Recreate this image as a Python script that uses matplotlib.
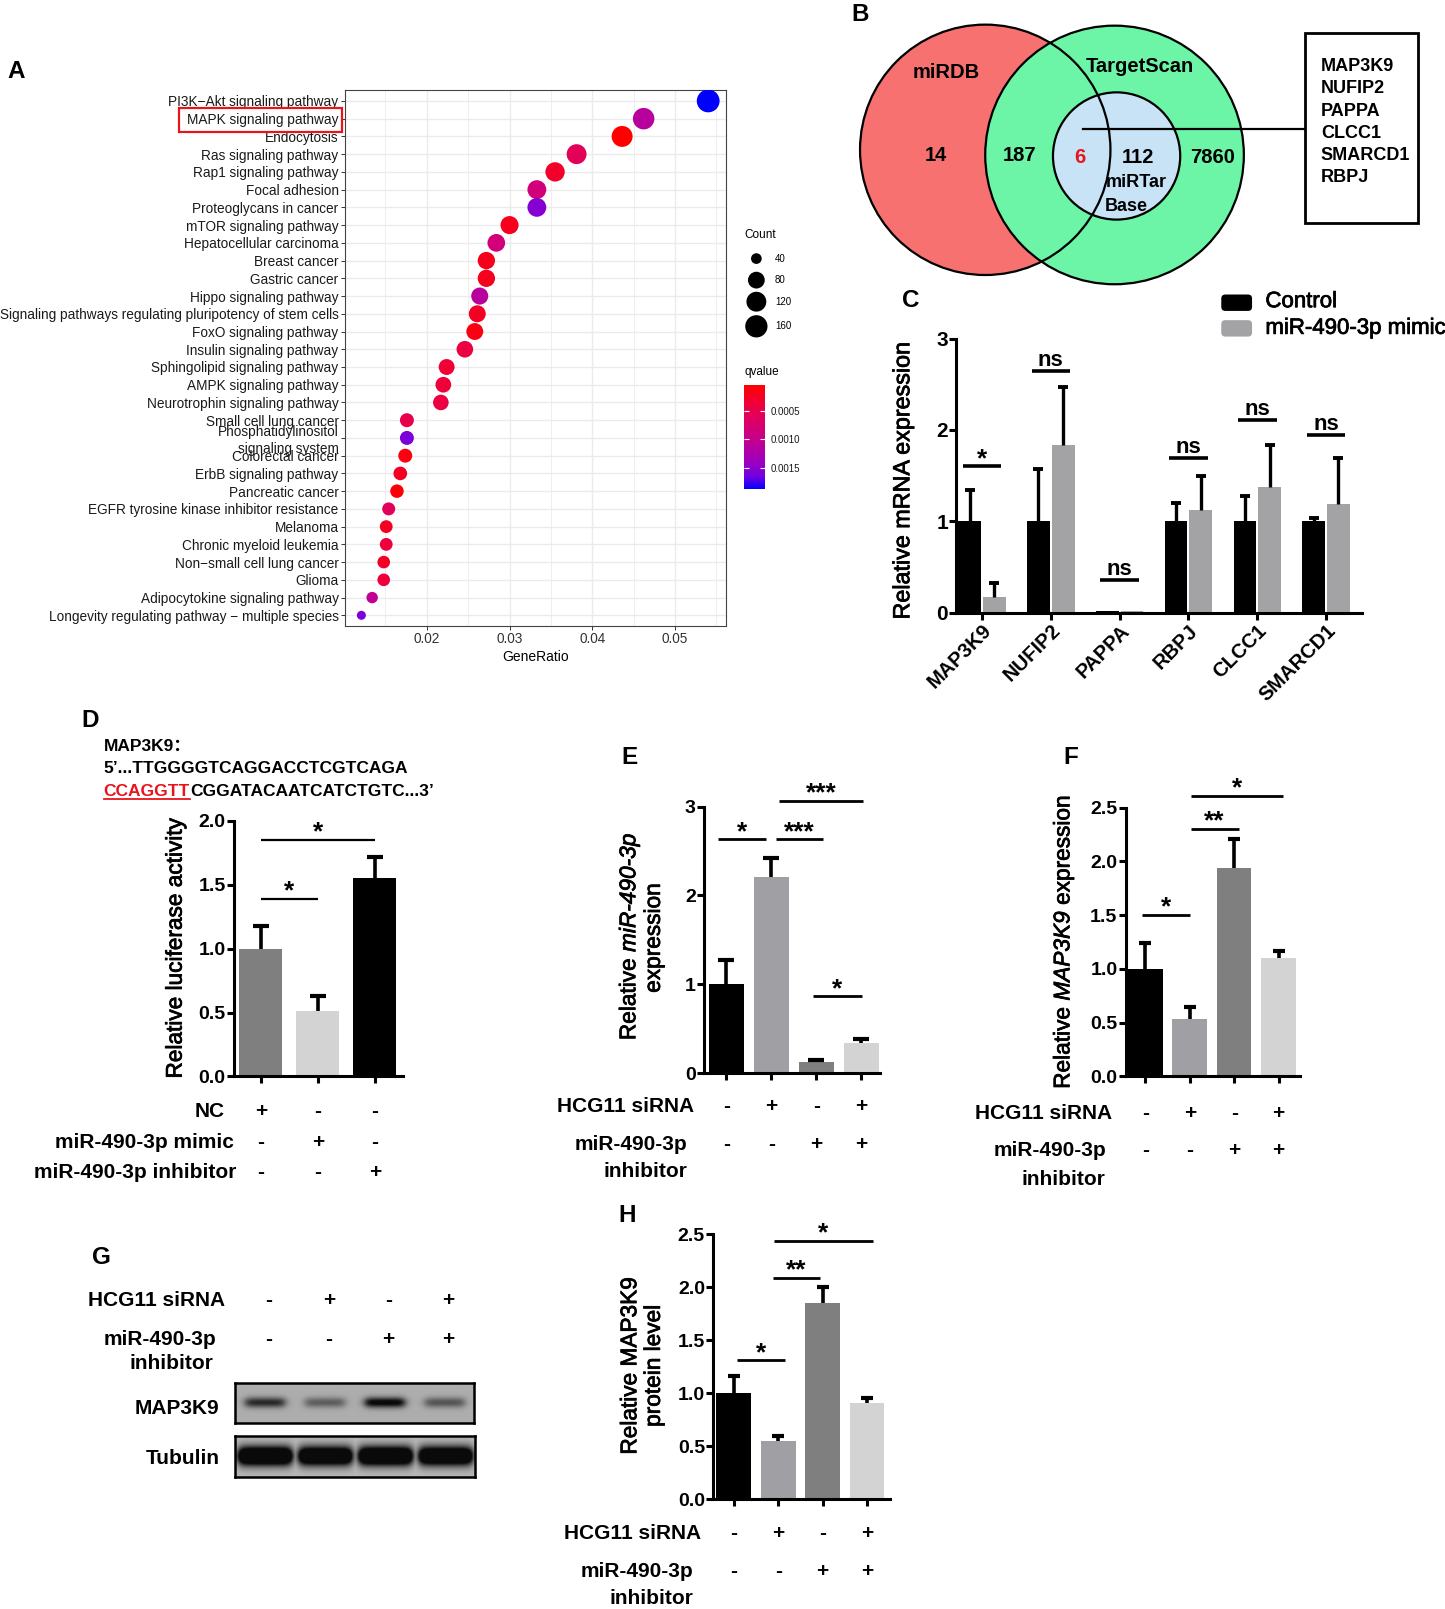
import numpy as np
import matplotlib
matplotlib.use("Agg")
import matplotlib.pyplot as plt
import matplotlib.patheffects as pe
from matplotlib.colors import LinearSegmentedColormap
from matplotlib.patches import Circle, Rectangle, FancyBboxPatch
from matplotlib.transforms import blended_transform_factory, offset_copy

plt.rcParams['font.family'] = ['Liberation Sans', 'DejaVu Sans']

# ---------------- data ----------------
# A: KEGG enrichment
kegg_terms = [
    "PI3K\u2212Akt signaling pathway", "MAPK signaling pathway", "Endocytosis",
    "Ras signaling pathway", "Rap1 signaling pathway", "Focal adhesion",
    "Proteoglycans in cancer", "mTOR signaling pathway", "Hepatocellular carcinoma",
    "Breast cancer", "Gastric cancer", "Hippo signaling pathway",
    "Signaling pathways regulating pluripotency of stem cells", "FoxO signaling pathway",
    "Insulin signaling pathway", "Sphingolipid signaling pathway", "AMPK signaling pathway",
    "Neurotrophin signaling pathway", "Small cell lung cancer",
    "Phosphatidylinositol\nsignaling system", "Colorectal cancer", "ErbB signaling pathway",
    "Pancreatic cancer", "EGFR tyrosine kinase inhibitor resistance", "Melanoma",
    "Chronic myeloid leukemia", "Non\u2212small cell lung cancer", "Glioma",
    "Adipocytokine signaling pathway", "Longevity regulating pathway \u2212 multiple species",
]
gene_ratio = [0.0540, 0.0462, 0.0436, 0.0381, 0.0355, 0.0333, 0.0333, 0.0300, 0.0284,
              0.0272, 0.0272, 0.0264, 0.0261, 0.0258, 0.0246, 0.0224, 0.0220, 0.0217,
              0.0176, 0.0176, 0.0174, 0.0168, 0.0164, 0.0154, 0.0151, 0.0151, 0.0148,
              0.0148, 0.0134, 0.0121]
gene_count = [170, 146, 137, 120, 112, 105, 105, 95, 90, 86, 86, 83, 82, 81, 78, 71, 69, 68,
              55, 55, 55, 53, 52, 49, 48, 48, 47, 47, 42, 38]
qvalue = [0.00189, 0.00113, 0.00003, 0.00057, 0.00028, 0.00085, 0.00155, 0.00019, 0.00085,
          0.00019, 0.00019, 0.00113, 0.00025, 0.00013, 0.00042, 0.00034, 0.00038, 0.00042,
          0.00047, 0.00160, 0.00013, 0.00025, 0.00008, 0.00057, 0.00023, 0.00038, 0.00027,
          0.00038, 0.00104, 0.00160]
count_legend = [40, 80, 120, 160]
q_ticks = [0.0005, 0.0010, 0.0015]

# B: Venn counts
n_mirdb_only = 14
n_mirdb_targetscan = 187
n_all_three = 6
n_targetscan_mirtarbase = 112
n_targetscan_only = 7860
candidate_genes = ["MAP3K9", "NUFIP2", "PAPPA", "CLCC1", "SMARCD1", "RBPJ"]

# C: qPCR of candidates
genes_c = ["MAP3K9", "NUFIP2", "PAPPA", "RBPJ", "CLCC1", "SMARCD1"]
control_c = [1.0, 1.0, 0.02, 1.0, 1.0, 1.0]
control_c_err = [0.34, 0.57, 0.0, 0.2, 0.28, 0.04]
mimic_c = [0.17, 1.83, 0.015, 1.12, 1.37, 1.19]
mimic_c_err = [0.15, 0.64, 0.0, 0.38, 0.47, 0.5]
sig_c = ["*", "ns", "ns", "ns", "ns", "ns"]
sig_c_y = [1.6, 2.65, 0.36, 1.69, 2.11, 1.95]

# D: luciferase
luc_d = [1.0, 0.51, 1.55]
luc_d_err = [0.18, 0.12, 0.17]
nc_d = ["+", "-", "-"]
mimic_d = ["-", "+", "-"]
inhib_d = ["-", "-", "+"]
sig_d = [(0.0, 1.0, 1.39, "*"), (0.0, 2.0, 1.85, "*")]

# E-H shared design
hcg11_sirna = ["-", "+", "-", "+"]
mir_inhibitor = ["-", "-", "+", "+"]

mir_e = [1.0, 2.21, 0.13, 0.34]
mir_e_err = [0.27, 0.21, 0.02, 0.05]
sig_e = [(-0.18, 0.89, 2.63, "*"), (1.1, 2.15, 2.63, "***"),
         (1.17, 3.04, 3.06, "***"), (1.92, 3.02, 0.865, "*")]

map_f = [1.0, 0.53, 1.94, 1.1]
map_f_err = [0.24, 0.12, 0.27, 0.07]
sig_f = [(-0.07, 1.0, 1.5, "*"), (1.02, 2.1, 2.3, "**"), (1.03, 3.1, 2.61, "*")]

prot_h = [1.0, 0.55, 1.85, 0.91]
prot_h_err = [0.16, 0.05, 0.15, 0.05]
sig_h = [(0.07, 1.16, 1.31, "*"), (0.88, 1.94, 2.09, "**"), (0.9, 3.14, 2.44, "*")]

# G: western blot band strengths (relative)
blot_map3k9 = [0.75, 0.45, 1.0, 0.5]
blot_tubulin = [1.0, 0.95, 1.0, 0.95]

# ---------------- layout helpers ----------------
PW, PH = 1408.0, 1568.0
heavy = [pe.withStroke(linewidth=0.55, foreground='black')]


def rect(x0, y0, x1, y1):
    return [x0 / PW, 1 - y1 / PH, (x1 - x0) / PW, (y1 - y0) / PH]


fig = plt.figure(figsize=(14.45, 16.09), dpi=100)
ov = fig.add_axes([0, 0, 1, 1], zorder=10)
ov.set_xlim(0, PW)
ov.set_ylim(PH, 0)
ov.axis('off')
renderer = fig.canvas.get_renderer()


def txt(x, y, s, size=15, weight='bold', ha='center', va='center', **kw):
    return ov.text(x, y, s, fontsize=size, fontweight=weight, ha=ha, va=va, **kw)


def rot_runs(xb, yc, runs, size=16.3):
    # vertical label made of several style runs, baseline at xb, centred on yc
    texts = [ov.text(xb, yc, s, fontsize=size, style=st, rotation=90,
                     rotation_mode='anchor', ha='left', va='baseline',
                     path_effects=heavy) for s, st in runs]
    lens = [t.get_window_extent(renderer).height for t in texts]
    off = -sum(lens) / 2
    for t, L in zip(texts, lens):
        t.set_transform(offset_copy(ov.transData, fig=fig, x=0, y=off, units='dots'))
        off += L


def up_err(ax, x, y, e, cap_ms, lw=2.6):
    x = np.asarray(x, float)
    y = np.asarray(y, float)
    e = np.asarray(e, float)
    k = e > 0
    ax.vlines(x[k], y[k], (y + e)[k], color='black', lw=lw, zorder=3, clip_on=False)
    ax.plot(x[k], (y + e)[k], ls='none', marker='_', ms=cap_ms, mew=lw + 0.4,
            color='black', zorder=3, clip_on=False)


def sig_line(ax, x0, x1, y, label, lw=2.0):
    ax.plot([x0, x1], [y, y], color='black', lw=lw, solid_capstyle='butt', clip_on=False)
    ns = label == 'ns'
    ax.annotate(label, xy=((x0 + x1) / 2, y), xytext=(0, 3.5 if ns else 0.3),
                textcoords='offset points', ha='center', va='baseline',
                fontsize=16 if ns else 19, fontweight='bold', annotation_clip=False)


def style_bars(ax, yticks, ylabels, size=14):
    ax.set_facecolor('none')
    for s in ['top', 'right']:
        ax.spines[s].set_visible(False)
    for s in ['left', 'bottom']:
        ax.spines[s].set_linewidth(2.2)
    ax.set_yticks(yticks)
    ax.set_yticklabels(ylabels, fontsize=size, fontweight='bold')
    ax.tick_params(length=5, width=2.2, pad=1)


def sign_row(ax, signs, y, shift=0.0):
    tr = blended_transform_factory(ax.transData, ov.transData)
    for i, s in enumerate(signs):
        ov.text(i + shift, y, s, transform=tr, fontsize=15, fontweight='bold',
                ha='center', va='center')


# ---------------- A ----------------
axA = fig.add_axes(rect(336, 88, 707, 610))
n = len(kegg_terms)
ypos = np.arange(n, 0, -1)
cmin, cmax = min(gene_count), max(gene_count)


def dot_size(c):
    d = 9 + 13.8 * np.sqrt((np.asarray(c, float) - cmin) / (cmax - cmin))
    return (d * 0.72) ** 2


qcmap = LinearSegmentedColormap.from_list(
    'q', [(0, '#FF0000'), (0.25, '#E8004F'), (0.5, '#C90088'),
          (0.75, '#9A00C2'), (0.875, '#7300E0'), (1, '#0000FF')])
sc = axA.scatter(gene_ratio, ypos, s=dot_size(gene_count), c=qvalue, cmap=qcmap,
                 vmin=min(qvalue), vmax=max(qvalue), edgecolors='none', zorder=3)
axA.set_xlim(0.0101, 0.0561)
axA.set_ylim(0.4, n + 0.6)
axA.set_yticks(ypos)
axA.set_yticklabels(kegg_terms, fontsize=9.8, color='#1a1a1a')
axA.set_xticks([0.02, 0.03, 0.04, 0.05])
axA.set_xticklabels(['0.02', '0.03', '0.04', '0.05'], fontsize=9.8, color='#333333')
axA.set_xticks([0.015, 0.025, 0.035, 0.045, 0.055], minor=True)
axA.grid(which='major', color='#EBEBEB', lw=1.0)
axA.grid(which='minor', axis='x', color='#EBEBEB', lw=0.6)
axA.set_axisbelow(True)
axA.tick_params(which='major', length=3, width=0.7, color='#333333', pad=1.5)
axA.tick_params(which='minor', length=0)
for sp in axA.spines.values():
    sp.set_color('#444444')
    sp.set_linewidth(0.8)
axA.set_xlabel('GeneRatio', fontsize=10, labelpad=3)
ov.add_patch(Rectangle((174, 105), 159, 24, fill=False, ec='#E8141B', lw=1.6))

txt(725, 229, 'Count', size=8.5, weight='normal', ha='left')
for c, yy in zip(count_legend, [252, 273, 294, 318]):
    ov.scatter([737], [yy], s=dot_size(c), color='black', edgecolors='none')
    txt(755, yy, str(c), size=7, weight='normal', ha='left')

cax = fig.add_axes(rect(725, 375, 745, 477))
cb = fig.colorbar(sc, cax=cax)
cax.invert_yaxis()
cb.outline.set_visible(False)
cb.set_ticks(q_ticks)
cb.set_ticklabels(['%.4f' % t for t in q_ticks])
cax.tick_params(direction='in', length=3.5, width=0.8, color='white', left=True,
                right=True, labelsize=7, labelcolor='#1a1a1a', pad=4)
txt(725, 363, 'qvalue', size=8.5, weight='normal', ha='left')

# ---------------- B ----------------
c_red = ((960, 146), 122)
c_green = ((1086, 151), 126)
c_blue = ((1088, 152), 62)
for (xy, r), fc in [(c_red, '#F87171'), (c_green, '#6CF5A6'), (c_blue, '#C7E3F5')]:
    ov.add_patch(Circle(xy, r, fc=fc, ec='none', zorder=1))
for xy, r in [c_red, c_green, c_blue]:
    ov.add_patch(Circle(xy, r, fill=False, ec='black', lw=1.6, zorder=2))
txt(922, 71, 'miRDB', size=14.5)
txt(1111, 65, 'TargetScan', size=14.5)
txt(912, 152, str(n_mirdb_only), size=14.5)
txt(993, 152, str(n_mirdb_targetscan), size=14.5)
txt(1052, 153, str(n_all_three), size=14.5, color='#E8141B')
txt(1109, 153, str(n_targetscan_mirtarbase), size=14.5)
txt(1182, 153, str(n_targetscan_only), size=14.5)
txt(1107, 178, 'miRTar', size=13)
txt(1097, 201, 'Base', size=13)
ov.plot([1055, 1272], [126, 126], color='black', lw=1.6)
ov.add_patch(Rectangle((1272, 32), 110, 185, fill=False, ec='black', lw=2))
for i, g in enumerate(candidate_genes):
    txt(1287, 65 + i * 21.6, g, size=13, ha='left')

# ---------------- C ----------------
axC = fig.add_axes(rect(932, 330, 1327, 597))
xc = np.arange(len(genes_c))
axC.bar(xc - 0.18, control_c, 0.33, color='black', zorder=2)
axC.bar(xc + 0.18, mimic_c, 0.33, color='#A3A3A6', zorder=2)
up_err(axC, xc - 0.18, control_c, control_c_err, 6.5, lw=2.4)
up_err(axC, xc + 0.18, mimic_c, mimic_c_err, 6.5, lw=2.4)
for x, lab, yy in zip(xc, sig_c, sig_c_y):
    sig_line(axC, x - 0.28, x + 0.28, yy, lab, lw=2.6)
axC.set_xlim(-0.37, 5.52)
axC.set_ylim(0, 3)
style_bars(axC, [0, 1, 2, 3], ['0', '1', '2', '3'], size=15)
axC.set_xticks(xc)
axC.set_xticklabels(genes_c, rotation=45, ha='right', va='top', rotation_mode='anchor',
                    fontsize=14.5, fontweight='bold')
rot_runs(886, 468, [('Relative mRNA expression', 'normal')], size=16.8)
ov.add_patch(FancyBboxPatch((1190, 287), 30, 16, boxstyle='round,pad=0,rounding_size=4',
                            fc='black', ec='none'))
ov.add_patch(FancyBboxPatch((1190, 312), 30, 16, boxstyle='round,pad=0,rounding_size=4',
                            fc='#A3A3A6', ec='none'))
txt(1233, 294, 'Control', size=16, weight='normal', ha='left', path_effects=heavy)
txt(1233, 320, 'miR-490-3p mimic', size=16, weight='normal', ha='left', path_effects=heavy)

# ---------------- D ----------------
axD = fig.add_axes(rect(228, 800, 393, 1049))
xd = np.arange(len(luc_d))
axD.bar(xd, luc_d, 0.76, color=['#7F7F7F', '#D3D3D3', '#000000'], zorder=2)
up_err(axD, xd, luc_d, luc_d_err, 11.5)
for x0, x1, yy, lab in sig_d:
    sig_line(axD, x0, x1, yy, lab, lw=1.6)
axD.set_xlim(-0.47, 2.5)
axD.set_ylim(0, 2)
style_bars(axD, [0, 0.5, 1.0, 1.5, 2.0], ['0.0', '0.5', '1.0', '1.5', '2.0'])
axD.set_xticks(xd)
axD.set_xticklabels([])
rot_runs(177, 924, [('Relative luciferase activity', 'normal')])
txt(219, 1083, 'NC', ha='right')
txt(228, 1113, 'miR-490-3p mimic', ha='right')
txt(230, 1143, 'miR-490-3p inhibitor', ha='right')
sign_row(axD, nc_d, 1083)
sign_row(axD, mimic_d, 1113)
sign_row(axD, inhib_d, 1143)

ov.text(101, 727, 'MAP3K9\uff1a', fontsize=12.5, fontweight='bold', ha='left', va='center',
        family=['Liberation Sans', 'Noto Sans CJK SC'])
txt(101, 749, '5\u2019...TTGGGGTCAGGACCTCGTCAGA', size=12.5, ha='left')
t_red = ov.text(101, 776, 'CCAGGTT', fontsize=12.5, fontweight='bold', color='#E8141B',
                ha='left', va='baseline')
w_red = t_red.get_window_extent(renderer).width
ov.text(101, 776, 'CGGATACAATCATCTGTC...3\u2019', fontsize=12.5, fontweight='bold',
        ha='left', va='baseline',
        transform=offset_copy(ov.transData, fig=fig, x=w_red, y=0, units='dots'))
bb = t_red.get_window_extent(renderer)
inv = ov.transData.inverted()
(ux0, _), (ux1, _) = inv.transform([(bb.x0, bb.y0), (bb.x1, bb.y0)])
ov.plot([ux0, ux1], [779, 779], color='#E8141B', lw=1.3)

# ---------------- E ----------------
axE = fig.add_axes(rect(686, 786, 857, 1046))
xe = np.arange(4)
bar_cols = ['#000000', '#A0A0A4', '#7F7F7F', '#D3D3D3']
axE.bar(xe, mir_e, 0.78, color=bar_cols, zorder=2)
up_err(axE, xe, mir_e, mir_e_err, 12)
for x0, x1, yy, lab in sig_e:
    sig_line(axE, x0, x1, yy, lab, lw=2.0)
axE.set_xlim(-0.5, 3.41)
axE.set_ylim(0, 3)
style_bars(axE, [0, 1, 2, 3], ['0', '1', '2', '3'])
axE.set_xticks(xe)
axE.set_xticklabels([])
rot_runs(619, 913, [('Relative', 'normal'), (' miR-490-3p', 'italic')])
rot_runs(643, 914, [('expression', 'normal')])
txt(676, 1078, 'HCG11 siRNA', ha='right')
txt(670, 1115, 'miR-490-3p', ha='right')
txt(670, 1142, 'inhibitor', ha='right')
sign_row(axE, hcg11_sirna, 1078)
sign_row(axE, mir_inhibitor, 1115)

# ---------------- F ----------------
axF = fig.add_axes(rect(1097, 787, 1267, 1049))
axF.bar(xe, map_f, 0.78, color=bar_cols, zorder=2)
up_err(axF, xe, map_f, map_f_err, 8.5)
for x0, x1, yy, lab in sig_f:
    sig_line(axF, x0, x1, yy, lab, lw=2.0)
axF.set_xlim(-0.44, 3.49)
axF.set_ylim(0, 2.5)
style_bars(axF, [0, 0.5, 1, 1.5, 2, 2.5], ['0.0', '0.5', '1.0', '1.5', '2.0', '2.5'])
axF.set_xticks(xe)
axF.set_xticklabels([])
rot_runs(1042, 918, [('Relative', 'normal'), (' MAP3K9', 'italic'), (' expression', 'normal')])
txt(1084, 1085, 'HCG11 siRNA', ha='right')
txt(1078, 1121, 'miR-490-3p', ha='right')
txt(1077, 1149, 'inhibitor', ha='right')
sign_row(axF, hcg11_sirna, 1085)
sign_row(axF, mir_inhibitor, 1121)


# ---------------- G ----------------
def blot_image(levels, sigma, half_w, bg, gain):
    xs = np.linspace(0, 4, 480)
    ys = np.linspace(0, 1, 80)
    X, Y = np.meshgrid(xs, ys)
    dark = np.zeros_like(X)
    for i, lv in enumerate(levels):
        hx = 1 / (1 + np.exp((np.abs(X - (i + 0.5)) - half_w) / 0.04))
        vy = np.exp(-0.5 * ((Y - 0.5) / sigma) ** 2)
        dark = np.maximum(dark, np.clip(gain * lv * hx * vy, 0, 1))
    return bg - (bg - 0.04) * dark


axG = None
for box, levels, sig_w, hw, bg, gain in [
        ((229, 1348, 462, 1387), blot_map3k9, 0.09, 0.33, 0.68, 1.1),
        ((229, 1399, 463, 1439), blot_tubulin, 0.16, 0.44, 0.72, 1.9)]:
    axb = fig.add_axes(rect(*box))
    axb.imshow(blot_image(levels, sig_w, hw, bg, gain), cmap='gray', vmin=0, vmax=1,
               extent=(0, 4, 1, 0), aspect='auto', interpolation='bilinear')
    axb.set_xticks([])
    axb.set_yticks([])
    for sp in axb.spines.values():
        sp.set_linewidth(1.8)
    if axG is None:
        axG = axb
txt(214, 1373, 'MAP3K9', ha='right')
txt(214, 1421, 'Tubulin', ha='right')
txt(219, 1267, 'HCG11 siRNA', ha='right')
txt(211, 1305, 'miR-490-3p', ha='right')
txt(208, 1329, 'inhibitor', ha='right')
sign_row(axG, hcg11_sirna, 1267, shift=0.57)
sign_row(axG, mir_inhibitor, 1305, shift=0.57)

# ---------------- H ----------------
axH = fig.add_axes(rect(695, 1203, 867, 1461))
axH.bar(xe, prot_h, 0.78, color=bar_cols, zorder=2)
up_err(axH, xe, prot_h, prot_h_err, 8.5)
for x0, x1, yy, lab in sig_h:
    sig_line(axH, x0, x1, yy, lab, lw=2.0)
axH.set_xlim(-0.46, 3.51)
axH.set_ylim(0, 2.5)
style_bars(axH, [0, 0.5, 1, 1.5, 2, 2.5], ['0.0', '0.5', '1.0', '1.5', '2.0', '2.5'])
axH.set_xticks(xe)
axH.set_xticklabels([])
rot_runs(620, 1331, [('Relative MAP3K9', 'normal')])
rot_runs(643, 1331, [('protein level', 'normal')])
txt(683, 1494, 'HCG11 siRNA', ha='right')
txt(676, 1531, 'miR-490-3p', ha='right')
txt(676, 1558, 'inhibitor', ha='right')
sign_row(axH, hcg11_sirna, 1494)
sign_row(axH, mir_inhibitor, 1531)

# ---------------- panel letters ----------------
for lab, x, y in [('A', 16, 70), ('B', 838, 14), ('C', 887, 293), ('D', 88, 702),
                  ('E', 613, 738), ('F', 1043, 738), ('G', 99, 1225), ('H', 611, 1185)]:
    txt(x, y, lab, size=17.5)

fig.savefig('out.png', dpi=100)
